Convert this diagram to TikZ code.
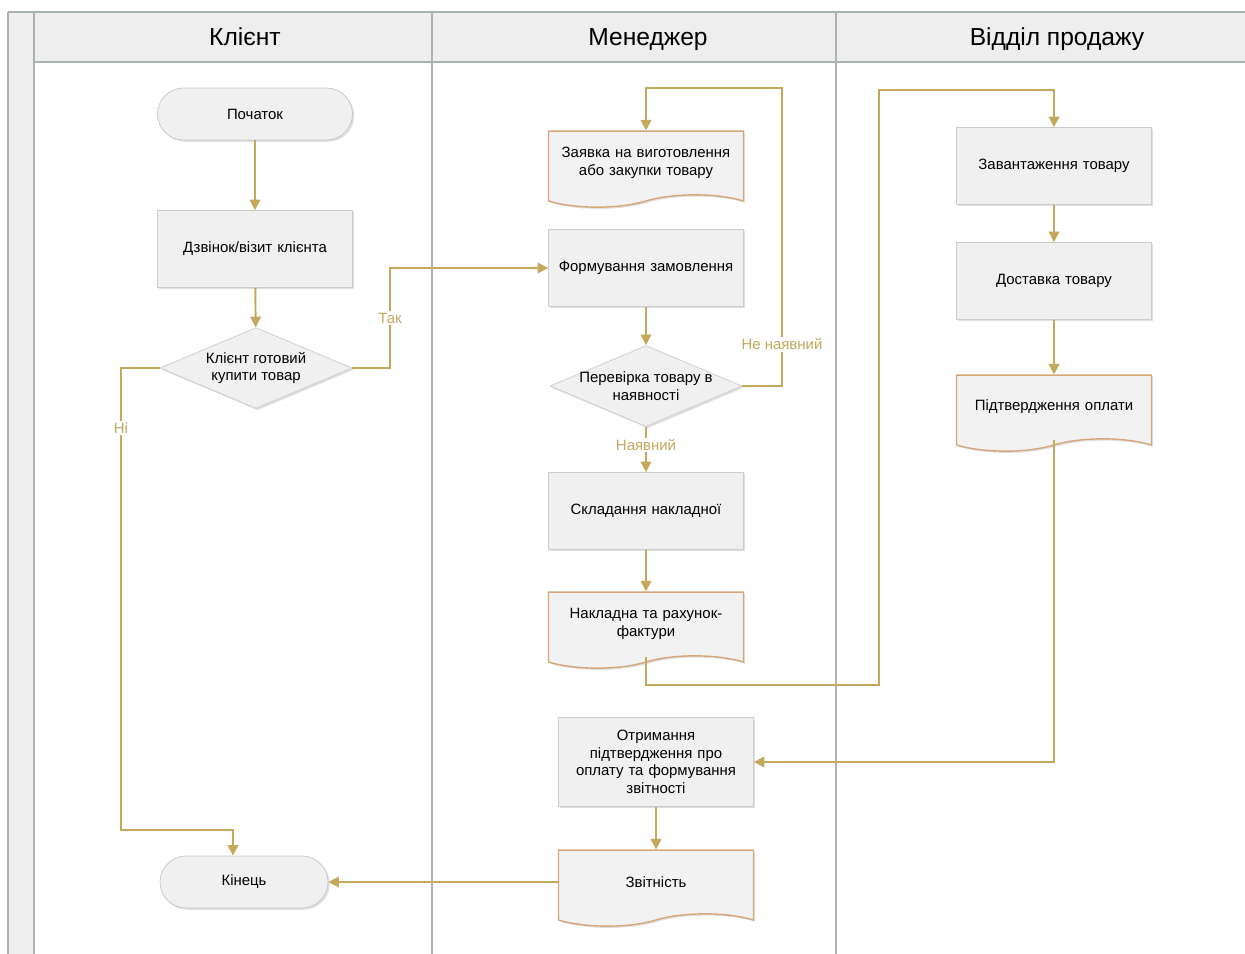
\documentclass[tikz,border=0pt]{standalone}
\usepackage{fontspec}
\setmainfont{Liberation Sans}
\usetikzlibrary{shapes.geometric,shapes.symbols,arrows.meta,shadows}

\definecolor{flowc}{RGB}{196,168,92}
\definecolor{docline}{RGB}{212,168,120}
\definecolor{lanefill}{RGB}{238,238,238}
\definecolor{laneline}{RGB}{170,178,178}

\tikzset{
  nodetext/.style={font=\fontsize{8.5}{10}\selectfont, align=center},
  proc/.style={nodetext, draw=gray!40, fill=gray!12, minimum width=3.9cm,
    minimum height=1.54cm, text width=3.6cm,
    drop shadow={opacity=0.25, shadow xshift=1pt, shadow yshift=-1pt}},
  term/.style={nodetext, draw=gray!45, fill=gray!12, rounded corners=0.52cm,
    minimum width=3.9cm, minimum height=1.04cm,
    drop shadow={opacity=0.25, shadow xshift=1pt, shadow yshift=-1pt}},
  decision/.style={diamond, draw=gray!40, fill=gray!12, minimum width=3.84cm,
    minimum height=1.62cm, inner sep=0pt, aspect=2.4,
    drop shadow={opacity=0.25, shadow xshift=1pt, shadow yshift=-1pt}},
  docbox/.style={nodetext, tape, tape bend top=none, tape bend bottom=in and out,
    tape bend height=7pt, draw=docline, thick, fill=gray!10,
    minimum width=3.9cm, minimum height=1.52cm, text width=3.6cm,
    drop shadow={opacity=0.25, shadow xshift=1pt, shadow yshift=-1pt}},
  flow/.style={draw=flowc, line width=1.1pt, -{Triangle[length=6pt,width=6pt]}},
  lbl/.style={fill=white, text=flowc, font=\fontsize{8.5}{10}\selectfont, inner sep=1pt},
  lanehead/.style={font=\fontsize{14}{16}\selectfont, anchor=base}
}

\begin{document}
\begin{tikzpicture}[x=0.02cm, y=-0.02cm]
  \useasboundingbox (0,0) rectangle (1245,954);

  % swimlanes
  \fill[lanefill] (8,12) rectangle (34,954);
  \fill[lanefill] (34,12) rectangle (1245,62);
  \draw[laneline, line width=0.8pt] (8,12) -- (1245,12);
  \draw[laneline, line width=0.8pt] (34,62) -- (1245,62);
  \draw[laneline, line width=0.8pt] (8,12) -- (8,954);
  \draw[laneline, line width=0.8pt] (34,12) -- (34,954);
  \draw[laneline, line width=0.8pt] (432,12) -- (432,954);
  \draw[laneline, line width=0.8pt] (836,12) -- (836,954);
  \node[lanehead] (hclient) at (245,45) {Клієнт};
  \node[lanehead] (hmanager) at (648,45) {Менеджер};
  \node[lanehead] (hsales) at (1057,45) {Відділ продажу};

  % client
  \node[term] (start) at (255,114) {Початок};
  \node[proc] (call) at (255,249) {Дзвінок/візит клієнта};
  \node[decision, label={[nodetext]center:Клієнт готовий\\купити товар}] (ready) at (256,368) {};
  \node[term, minimum width=3.36cm] (finish) at (244,882) {Кінець};

  % manager
  \node[docbox] (request) at (646,163) {Заявка на виготовлення\\або закупки товару};
  \node[proc] (order) at (646,268) {Формування замовлення};
  \node[decision, label={[nodetext]center:Перевірка товару в\\наявності}] (check) at (646,386) {};
  \node[proc] (compose) at (646,511) {Складання накладної};
  \node[docbox] (invoice) at (646,624) {Накладна та рахунок-\\фактури};
  \node[proc, minimum height=1.78cm] (receive) at (656,762) {Отримання\\підтвердження про\\оплату та формування\\звітності};
  \node[docbox] (report) at (656,882) {Звітність};

  % sales
  \node[proc] (load) at (1054,166) {Завантаження товару};
  \node[proc] (deliver) at (1054,281) {Доставка товару};
  \node[docbox] (confirm) at (1054,407) {Підтвердження оплати};

  % connectors
  \draw[flow] (start) -- (call);
  \draw[flow] (call) -- (ready);
  \draw[flow] (ready.east) -- (390,368) |- node[lbl, pos=0.25] {Так} (order.west);
  \draw[flow] (ready.west) -- (121,368) -- node[lbl, pos=0.13] {Ні} (121,830) -| ([xshift=-0.22cm]finish.north);
  \draw[flow] (order) -- (check);
  \draw[flow] (check.east) -| node[lbl, pos=0.57] {Не наявний} (782,88) -| (request.north);
  \draw[flow] (check) -- node[lbl, pos=0.4] {Наявний} (compose);
  \draw[flow] (compose) -- (invoice);
  \draw[flow] (invoice.south) |- (879,685) |- (1054,90) -- (load.north);
  \draw[flow] (load) -- (deliver);
  \draw[flow] (deliver) -- (confirm);
  \draw[flow] (confirm.south) |- (receive.east);
  \draw[flow] (receive) -- (report);
  \draw[flow] (report.west) -- (finish.east);
\end{tikzpicture}
\end{document}
